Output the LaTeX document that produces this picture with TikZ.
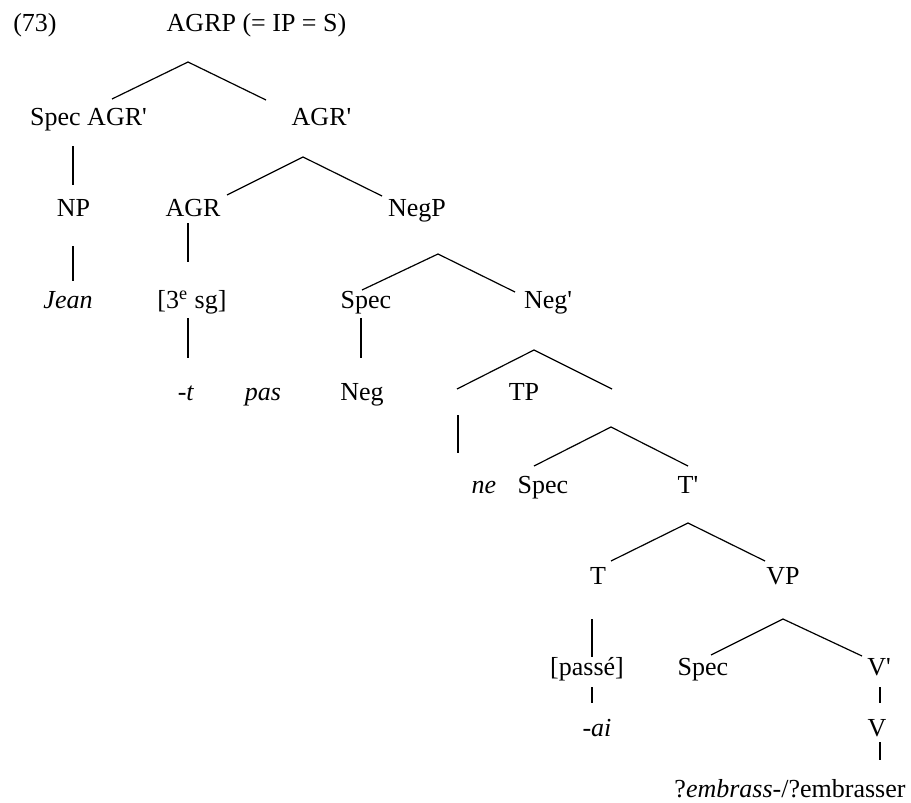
\documentclass[tikz,border=0pt]{standalone}
\usepackage{fontspec}
\setmainfont{Liberation Serif}
\usepackage{tikz}

\begin{document}
\begin{tikzpicture}[x=0.5pt,y=-0.5pt,line width=0.6pt,
    every node/.style={anchor=base,inner sep=0pt,font=\fontsize{13}{15}\selectfont}]
      \useasboundingbox (0,0) rectangle (911,803);
      % labels
      \node (35 31)  at (35,31.5)   {(73)};
      \node (257 31) at (256.5,31.5) {AGRP (= IP = S)};
      \node (88 125) at (88.5,125)  {Spec AGR\textquotesingle};
      \node (322 125) at (321.5,125) {AGR\textquotesingle};
      \node (73 216) at (73.5,216.5) {NP};
      \node (193 216) at (193,216.5) {AGR};
      \node (417 216) at (417,216.5) {NegP};
      \node (68 308) at (68,308.5)  {\textit{Jean}};
      \node (192 308) at (192,308.5) {[3\textsuperscript{e} sg]};
      \node (366 308) at (366,308.5) {Spec};
      \node (548 308) at (548,308.5) {Neg\textquotesingle};
      \node (186 400) at (186,400)  {-\textit{t}};
      \node (263 400) at (263,400)  {\textit{pas}};
      \node (362 400) at (362,400)  {Neg};
      \node (524 400) at (524,400)  {TP};
      \node (484 493) at (484,493)  {\textit{ne}};
      \node (543 493) at (543,493)  {Spec};
      \node (688 493) at (688,493)  {T\textquotesingle};
      \node (598 584) at (598,584)  {T};
      \node (783 584) at (783,584)  {VP};
      \node (587 675) at (587,675)  {[passé]};
      \node (703 675) at (703,675)  {Spec};
      \node (879 675) at (879,675)  {V\textquotesingle};
      \node (597 736) at (597,736)  {-\textit{ai}};
      \node (877 736) at (877,736)  {V};
      \node (790 797) at (790,797)  {?\textit{embrass}-/?embrasser};
      % branch ends
      \coordinate (188 62)  at (188,62);
      \coordinate (112 99)  at (112,99);
      \coordinate (266 100) at (266,100);
      \coordinate (73 146)  at (73,146);
      \coordinate (73 185)  at (73,185);
      \coordinate (303 157) at (303,157);
      \coordinate (227 195) at (227,195);
      \coordinate (382 196) at (382,196);
      \coordinate (73 246)  at (73,246);
      \coordinate (73 281)  at (73,281);
      \coordinate (188 223) at (188,223);
      \coordinate (188 262) at (188,262);
      \coordinate (438 254) at (438,254);
      \coordinate (362 290) at (362,290);
      \coordinate (515 292) at (515,292);
      \coordinate (188 318) at (188,318);
      \coordinate (188 358) at (188,358);
      \coordinate (361 318) at (361,318);
      \coordinate (361 358) at (361,358);
      \coordinate (534 350) at (534,350);
      \coordinate (457 389) at (457,389);
      \coordinate (612 389) at (612,389);
      \coordinate (458 415) at (458,415);
      \coordinate (458 453) at (458,453);
      \coordinate (611 427) at (611,427);
      \coordinate (534 466) at (534,466);
      \coordinate (688 466) at (688,466);
      \coordinate (688 523) at (688,523);
      \coordinate (611 561) at (611,561);
      \coordinate (765 561) at (765,561);
      \coordinate (592 619) at (592,619);
      \coordinate (592 657) at (592,657);
      \coordinate (783 619) at (783,619);
      \coordinate (711 655) at (711,655);
      \coordinate (862 656) at (862,656);
      \coordinate (592 687) at (592,687);
      \coordinate (592 703) at (592,703);
      \coordinate (880 687) at (880,687);
      \coordinate (880 703) at (880,703);
      \coordinate (880 742) at (880,742);
      \coordinate (880 760) at (880,760);
      % branches
      \draw (112 99) -- (188 62) -- (266 100);
      \draw (73 146) -- (73 185);
      \draw (227 195) -- (303 157) -- (382 196);
      \draw (73 246) -- (73 281);
      \draw (188 223) -- (188 262);
      \draw (362 290) -- (438 254) -- (515 292);
      \draw (188 318) -- (188 358);
      \draw (361 318) -- (361 358);
      \draw (457 389) -- (534 350) -- (612 389);
      \draw (458 415) -- (458 453);
      \draw (534 466) -- (611 427) -- (688 466);
      \draw (611 561) -- (688 523) -- (765 561);
      \draw (592 619) -- (592 657);
      \draw (711 655) -- (783 619) -- (862 656);
      \draw (592 687) -- (592 703);
      \draw (880 687) -- (880 703);
      \draw (880 742) -- (880 760);
    \end{tikzpicture}
\end{document}
